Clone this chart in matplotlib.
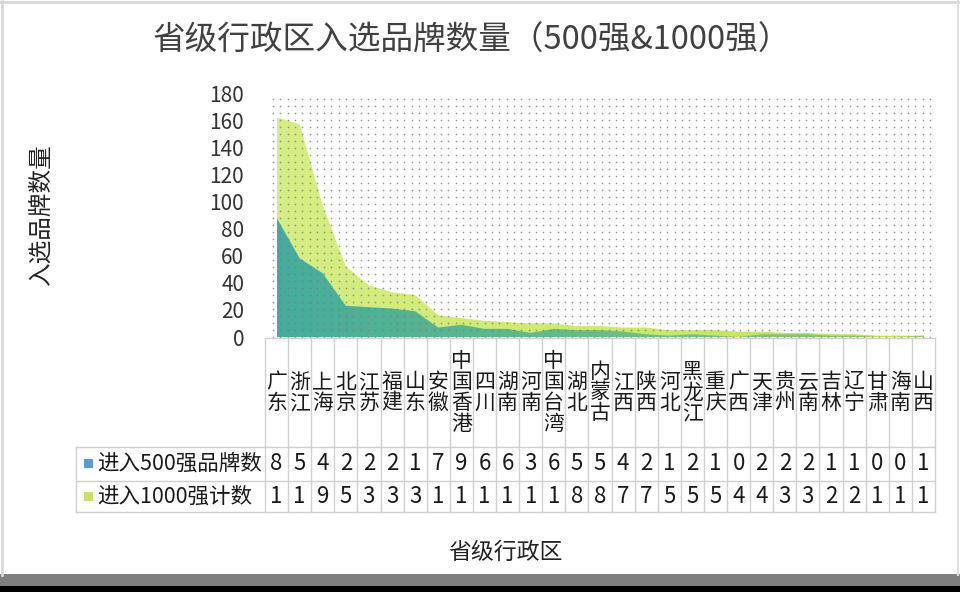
import numpy as np
import matplotlib
matplotlib.use("Agg")
import matplotlib.pyplot as plt
from matplotlib.patches import Polygon, Rectangle
from matplotlib.colors import LinearSegmentedColormap

plt.rcParams['font.family'] = ['Noto Sans CJK SC', 'DejaVu Sans']

provinces = ["广东", "浙江", "上海", "北京", "江苏", "福建", "山东", "安徽", "中国香港", "四川",
             "湖南", "河南", "中国台湾", "湖北", "内蒙古", "江西", "陕西", "河北", "黑龙江", "重庆",
             "广西", "天津", "贵州", "云南", "吉林", "辽宁", "甘肃", "海南", "山西"]
top500 = [88, 58, 47, 23, 22, 21, 19, 7, 9, 6, 6, 3, 6, 5, 5, 4, 2, 1, 2, 1, 0, 2, 2, 2, 1, 1, 0, 0, 1]
top1000 = [162, 157, 97, 52, 38, 33, 31, 16, 14, 12, 11, 10, 10, 8, 8, 7, 7, 5, 5, 5, 4, 4, 3, 3, 2, 2, 1, 1, 1]
series_names = ["进入500强品牌数", "进入1000强计数"]
yticks = [0, 20, 40, 60, 80, 100, 120, 140, 160, 180]
title = "省级行政区入选品牌数量（500强&1000强）"
xlabel = "省级行政区"
ylabel = "入选品牌数量"

W, H = 960, 592
fig = plt.figure(figsize=(W / 100, H / 100), dpi=100)
fig.patch.set_facecolor("white")

def fx(px):
    return px / W

def fy(py):
    return 1 - py / H

L, R, T, B = 265, 935, 93, 337
ax = fig.add_axes([fx(L), fy(B), fx(R - L), (B - T) / H])
n = len(provinces)
x = np.arange(n)
for s in ax.spines.values():
    s.set_visible(False)
ax.set_xticks([])
ax.set_yticks(yticks)
ax.set_yticklabels([str(t) for t in yticks], fontsize=15, color="#333333")
ax.tick_params(axis="y", length=0, pad=15)
ax.set_facecolor("white")

def grad_fill(xv, yv, c1, c2, z):
    verts = [(xv[0], 0)] + list(zip(xv, yv)) + [(xv[-1], 0)]
    poly = Polygon(verts, closed=True, facecolor="none", edgecolor="none")
    ax.add_patch(poly)
    cmap = LinearSegmentedColormap.from_list("g", [c1, c2])
    grad = np.linspace(0, 1, 256).reshape(1, -1)
    im = ax.imshow(grad, cmap=cmap, extent=[xv[0], xv[-1], 0, 180], aspect="auto",
                   origin="lower", zorder=z, interpolation="bicubic")
    im.set_clip_path(poly)

grad_fill(x, top1000, "#d6ee84", "#c4e25a", 1)
grad_fill(x, top500, "#45ac9e", "#8fcf68", 2)
ax.set_xlim(-0.5, n - 0.5)
ax.set_ylim(0, 180)

# dotted background pattern
gx = np.arange(0.012, 1.0, 7.3 / (R - L))
gy = np.arange(0.0, 1.0, 7.0 / (B - T))
GX, GY = np.meshgrid(gx, gy)
ax.scatter(GX.ravel(), GY.ravel(), s=1.5, c="#7a7a7a", marker="o", linewidths=0,
           transform=ax.transAxes, zorder=3, alpha=0.8, clip_on=False)

# overlay axes in pixel coordinates for the table / frame
ov = fig.add_axes([0, 0, 1, 1], facecolor="none")
ov.set_xlim(0, W)
ov.set_ylim(H, 0)
ov.axis("off")

colw = (R - L) / n
grid_c = "#d0d0d0"
t_top, r1, r2, r3 = 338, 447, 481, 512
tab_left = 76
ov.plot([L, R], [t_top, t_top], color=grid_c, lw=1)
for yy in (r1, r2, r3):
    ov.plot([tab_left, R], [yy, yy], color=grid_c, lw=1)
for i in range(n + 1):
    xx = L + i * colw
    ov.plot([xx, xx], [t_top, r3], color=grid_c, lw=1)
ov.plot([tab_left, tab_left], [r1, r3], color=grid_c, lw=1)

for i, name in enumerate(provinces):
    cx = L + (i + 0.5) * colw
    ov.text(cx, (t_top + r1) / 2, "\n".join(name), ha="center", va="center",
            fontsize=15, linespacing=0.93, color="#1a1a1a")
    ov.text(cx, (r1 + r2) / 2, str(top500[i])[0], ha="center", va="center",
            fontsize=16, color="#1a1a1a")
    ov.text(cx, (r2 + r3) / 2, str(top1000[i])[0], ha="center", va="center",
            fontsize=16, color="#1a1a1a")

leg_cols = ["#5b9bd5", "#c9e06a"]
for k, (yy0, yy1) in enumerate([(r1, r2), (r2, r3)]):
    cy = (yy0 + yy1) / 2
    ov.add_patch(Rectangle((84, cy - 5), 9, 9, facecolor=leg_cols[k], edgecolor="none"))
    ov.text(97, cy, series_names[k], ha="left", va="center", fontsize=15.5, color="#1a1a1a")

ov.text(472, 41, title, ha="center", va="center", fontsize=23.5, color="#404040")
ov.text(505, 552, xlabel, ha="center", va="center", fontsize=16.5, color="#222222")
ov.text(41, 215, ylabel, ha="center", va="center", fontsize=17, rotation=90, color="#222222")

# frame & bottom bars
ov.plot([1.5, 1.5], [0, 575], color="#d8d8d8", lw=2)
ov.plot([0, W], [1.5, 1.5], color="#d8d8d8", lw=2)
ov.plot([957.5, 957.5], [0, 575], color="#e0e0e0", lw=1.5)
ov.add_patch(Rectangle((0, 574), W, 12, facecolor="#7f7f7f", edgecolor="none"))
ov.add_patch(Rectangle((0, 586), W, 6, facecolor="#000000", edgecolor="none"))

fig.savefig("out.png", dpi=100)
